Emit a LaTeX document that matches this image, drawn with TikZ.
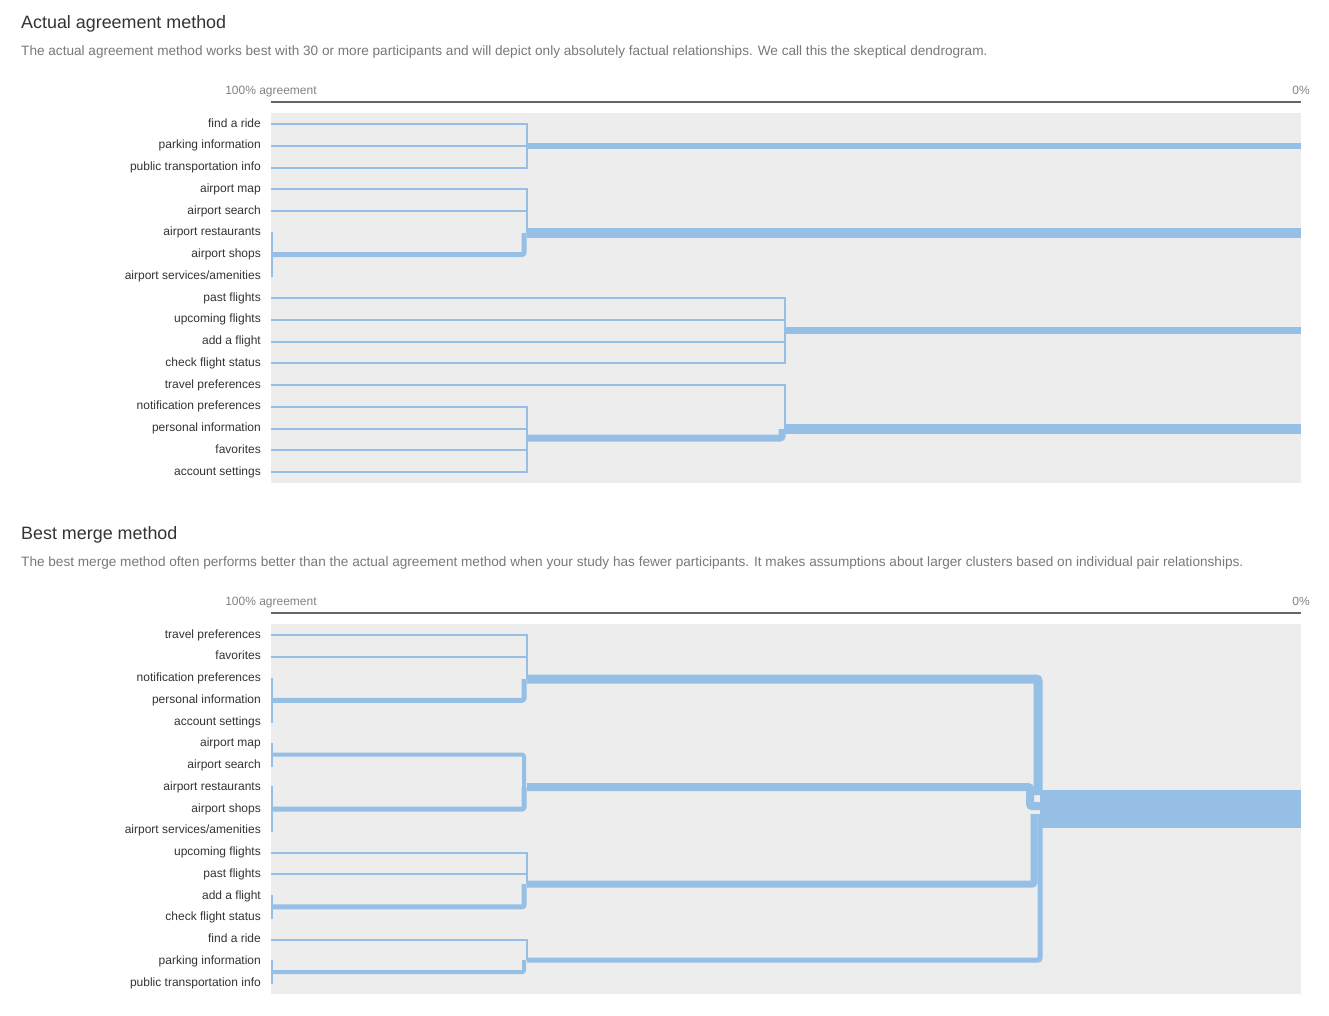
\documentclass[tikz,border=0pt]{standalone}
\usepackage{fontspec}
\setmainfont{Liberation Sans}
\usetikzlibrary{calc}
\definecolor{linkblue}{RGB}{149,191,229}
\definecolor{panelgray}{RGB}{237,237,237}
\definecolor{axisgray}{RGB}{102,102,102}
\definecolor{titlegray}{RGB}{51,51,51}
\definecolor{notegray}{RGB}{120,120,120}
\definecolor{scalegray}{RGB}{130,130,130}

\begin{document}
\begin{tikzpicture}[x=1pt, y=-1pt,
    title/.style={anchor=base west, inner sep=0pt, text=titlegray, font=\fontsize{17.9}{20}\selectfont},
    note/.style={anchor=base west, inner sep=0pt, text=notegray, font=\fontsize{13.6}{16}\selectfont},
    axislabel/.style={anchor=base, inner sep=0pt, text=scalegray, font=\fontsize{12}{14}\selectfont},
    item/.style={anchor=east, inner sep=0pt, text height=9pt, text depth=3pt, text=titlegray, font=\fontsize{12}{14}\selectfont},
    link/.style={draw=linkblue, line width=2pt},
    bond/.style={draw=linkblue, line width=#1, rounded corners=2pt},
    bond/.default=5pt]
            \useasboundingbox (0,0) rectangle (1329,1015);
            % actual agreement
            \node[title] (title1) at (21,28) {Actual agreement method};
            \node[note] (note1) at (21,55) {The actual agreement method works best with 30 or more participants and will depict only absolutely factual relationships. We call this the skeptical dendrogram.};
            \coordinate (p1nw) at (271,113);
            \coordinate (p1se) at (1301,483);
            \coordinate (a1l) at (271,102);
            \coordinate (a1r) at (1301,102);
            \fill[panelgray] (p1nw) rectangle (p1se);
            \draw[axisgray, line width=2pt] (a1l) -- (a1r);
            \node[axislabel] (hi1) at (271,94) {100\% agreement};
            \node[axislabel] (lo1) at (1301,94) {0\%};
            \node[item] (t1) at (261,124) {find a ride};
            \node[item] (t2) at (261,145.75) {parking information};
            \node[item] (t3) at (261,167.5) {public transportation info};
            \node[item] (t4) at (261,189.25) {airport map};
            \node[item] (t5) at (261,211) {airport search};
            \node[item] (t6) at (261,232.75) {airport restaurants};
            \node[item] (t7) at (261,254.5) {airport shops};
            \node[item] (t8) at (261,276.25) {airport services/amenities};
            \node[item] (t9) at (261,298) {past flights};
            \node[item] (t10) at (261,319.75) {upcoming flights};
            \node[item] (t11) at (261,341.5) {add a flight};
            \node[item] (t12) at (261,363.25) {check flight status};
            \node[item] (t13) at (261,385) {travel preferences};
            \node[item] (t14) at (261,406.75) {notification preferences};
            \node[item] (t15) at (261,428.5) {personal information};
            \node[item] (t16) at (261,450.25) {favorites};
            \node[item] (t17) at (261,472) {account settings};
            \coordinate (m1) at (527,146);
            \coordinate (m2) at (527,233);
            \coordinate (m3) at (785,330.5);
            \coordinate (m4a) at (527,438);
            \coordinate (m4) at (785,429);
            \draw[link] (t1 -| p1nw) -| (m1);
            \draw[link] (t2 -| p1nw) -| (m1);
            \draw[link] (t3 -| p1nw) -| (m1);
            \draw[bond=6pt] (m1) -- (m1 -| p1se);
            \draw[link] (t4 -| p1nw) -| (m2);
            \draw[link] (t5 -| p1nw) -| (m2);
            \draw[link] ($(t6 -| p1nw)+(1,-1)$) -- ($(t8 -| p1nw)+(1,1)$);
            \draw[bond] (t7 -| p1nw) -| ($(m2)+(-3,0)$);
            \draw[bond=10pt] (m2) -- (m2 -| p1se);
            \draw[link] (t9 -| p1nw) -| (m3);
            \draw[link] (t10 -| p1nw) -| (m3);
            \draw[link] (t11 -| p1nw) -| (m3);
            \draw[link] (t12 -| p1nw) -| (m3);
            \draw[bond=7pt] (m3) -- (m3 -| p1se);
            \draw[link] (t13 -| p1nw) -| (m4);
            \draw[link] (t14 -| p1nw) -| (m4a);
            \draw[link] (t15 -| p1nw) -| (m4a);
            \draw[link] (t16 -| p1nw) -| (m4a);
            \draw[link] (t17 -| p1nw) -| (m4a);
            \draw[bond=7pt] (m4a) -| ($(m4)+(-3,0)$);
            \draw[bond=10pt] (m4) -- (m4 -| p1se);
            % best merge
            \node[title] (title2) at (21,539) {Best merge method};
            \node[note] (note2) at (21,566) {The best merge method often performs better than the actual agreement method when your study has fewer participants. It makes assumptions about larger clusters based on individual pair relationships.};
            \coordinate (p2nw) at (271,624);
            \coordinate (p2se) at (1301,994);
            \coordinate (a2l) at (271,613);
            \coordinate (a2r) at (1301,613);
            \fill[panelgray] (p2nw) rectangle (p2se);
            \draw[axisgray, line width=2pt] (a2l) -- (a2r);
            \node[axislabel] (hi2) at (271,605) {100\% agreement};
            \node[axislabel] (lo2) at (1301,605) {0\%};
            \node[item] (b1) at (261,635) {travel preferences};
            \node[item] (b2) at (261,656.75) {favorites};
            \node[item] (b3) at (261,678.5) {notification preferences};
            \node[item] (b4) at (261,700.25) {personal information};
            \node[item] (b5) at (261,722) {account settings};
            \node[item] (b6) at (261,743.75) {airport map};
            \node[item] (b7) at (261,765.5) {airport search};
            \node[item] (b8) at (261,787.25) {airport restaurants};
            \node[item] (b9) at (261,809) {airport shops};
            \node[item] (b10) at (261,830.75) {airport services/amenities};
            \node[item] (b11) at (261,852.5) {upcoming flights};
            \node[item] (b12) at (261,874.25) {past flights};
            \node[item] (b13) at (261,896) {add a flight};
            \node[item] (b14) at (261,917.75) {check flight status};
            \node[item] (b15) at (261,939.5) {find a ride};
            \node[item] (b16) at (261,961.25) {parking information};
            \node[item] (b17) at (261,983) {public transportation info};
            \coordinate (n1) at (527,679);
            \coordinate (n2) at (527,787);
            \coordinate (n3) at (527,884);
            \coordinate (n4) at (527,960);
            \coordinate (f1) at (1038,795);
            \coordinate (f2) at (1044,806);
            \coordinate (f3) at (1034,814);
            \coordinate (f4) at (1040,814);
            \draw[link] (b1 -| p2nw) -| (n1);
            \draw[link] (b2 -| p2nw) -| (n1);
            \draw[link] ($(b3 -| p2nw)+(1,-1)$) -- ($(b5 -| p2nw)+(1,1)$);
            \draw[bond] (b4 -| p2nw) -| ($(n1)+(-3,0)$);
            \draw[bond=9pt] (n1) -| (f1);
            \draw[link] ($(b6 -| p2nw)+(1,-1)$) -- ($(b7 -| p2nw)+(1,1)$);
            \draw[link] ($(b8 -| p2nw)+(1,-1)$) -- ($(b10 -| p2nw)+(1,1)$);
            \draw[bond=4pt] ($(b6 -| p2nw)!.5!(b7 -| p2nw)$) -| ($(n2)+(-3,0)$);
            \draw[bond] (b9 -| p2nw) -| ($(n2)+(-3,0)$);
            \draw[bond=8pt] (n2) -- (1030,787) -- (1030,806) -- (f2);
            \draw[link] (b11 -| p2nw) -| (n3);
            \draw[link] (b12 -| p2nw) -| (n3);
            \draw[link] ($(b13 -| p2nw)+(1,-1)$) -- ($(b14 -| p2nw)+(1,1)$);
            \draw[bond] ($(b13 -| p2nw)!.5!(b14 -| p2nw)$) -| ($(n3)+(-3,0)$);
            \draw[bond=7pt] (n3) -| (f3);
            \draw[link] (b15 -| p2nw) -| (n4);
            \draw[link] ($(b16 -| p2nw)+(1,-1)$) -- ($(b17 -| p2nw)+(1,1)$);
            \draw[bond=4pt] ($(b16 -| p2nw)!.5!(b17 -| p2nw)$) -| ($(n4)+(-3,0)$);
            \draw[bond] (n4) -| (f4);
            \fill[linkblue] (1040,790) rectangle (p2se |- 0,828);
        \end{tikzpicture}
\end{document}
